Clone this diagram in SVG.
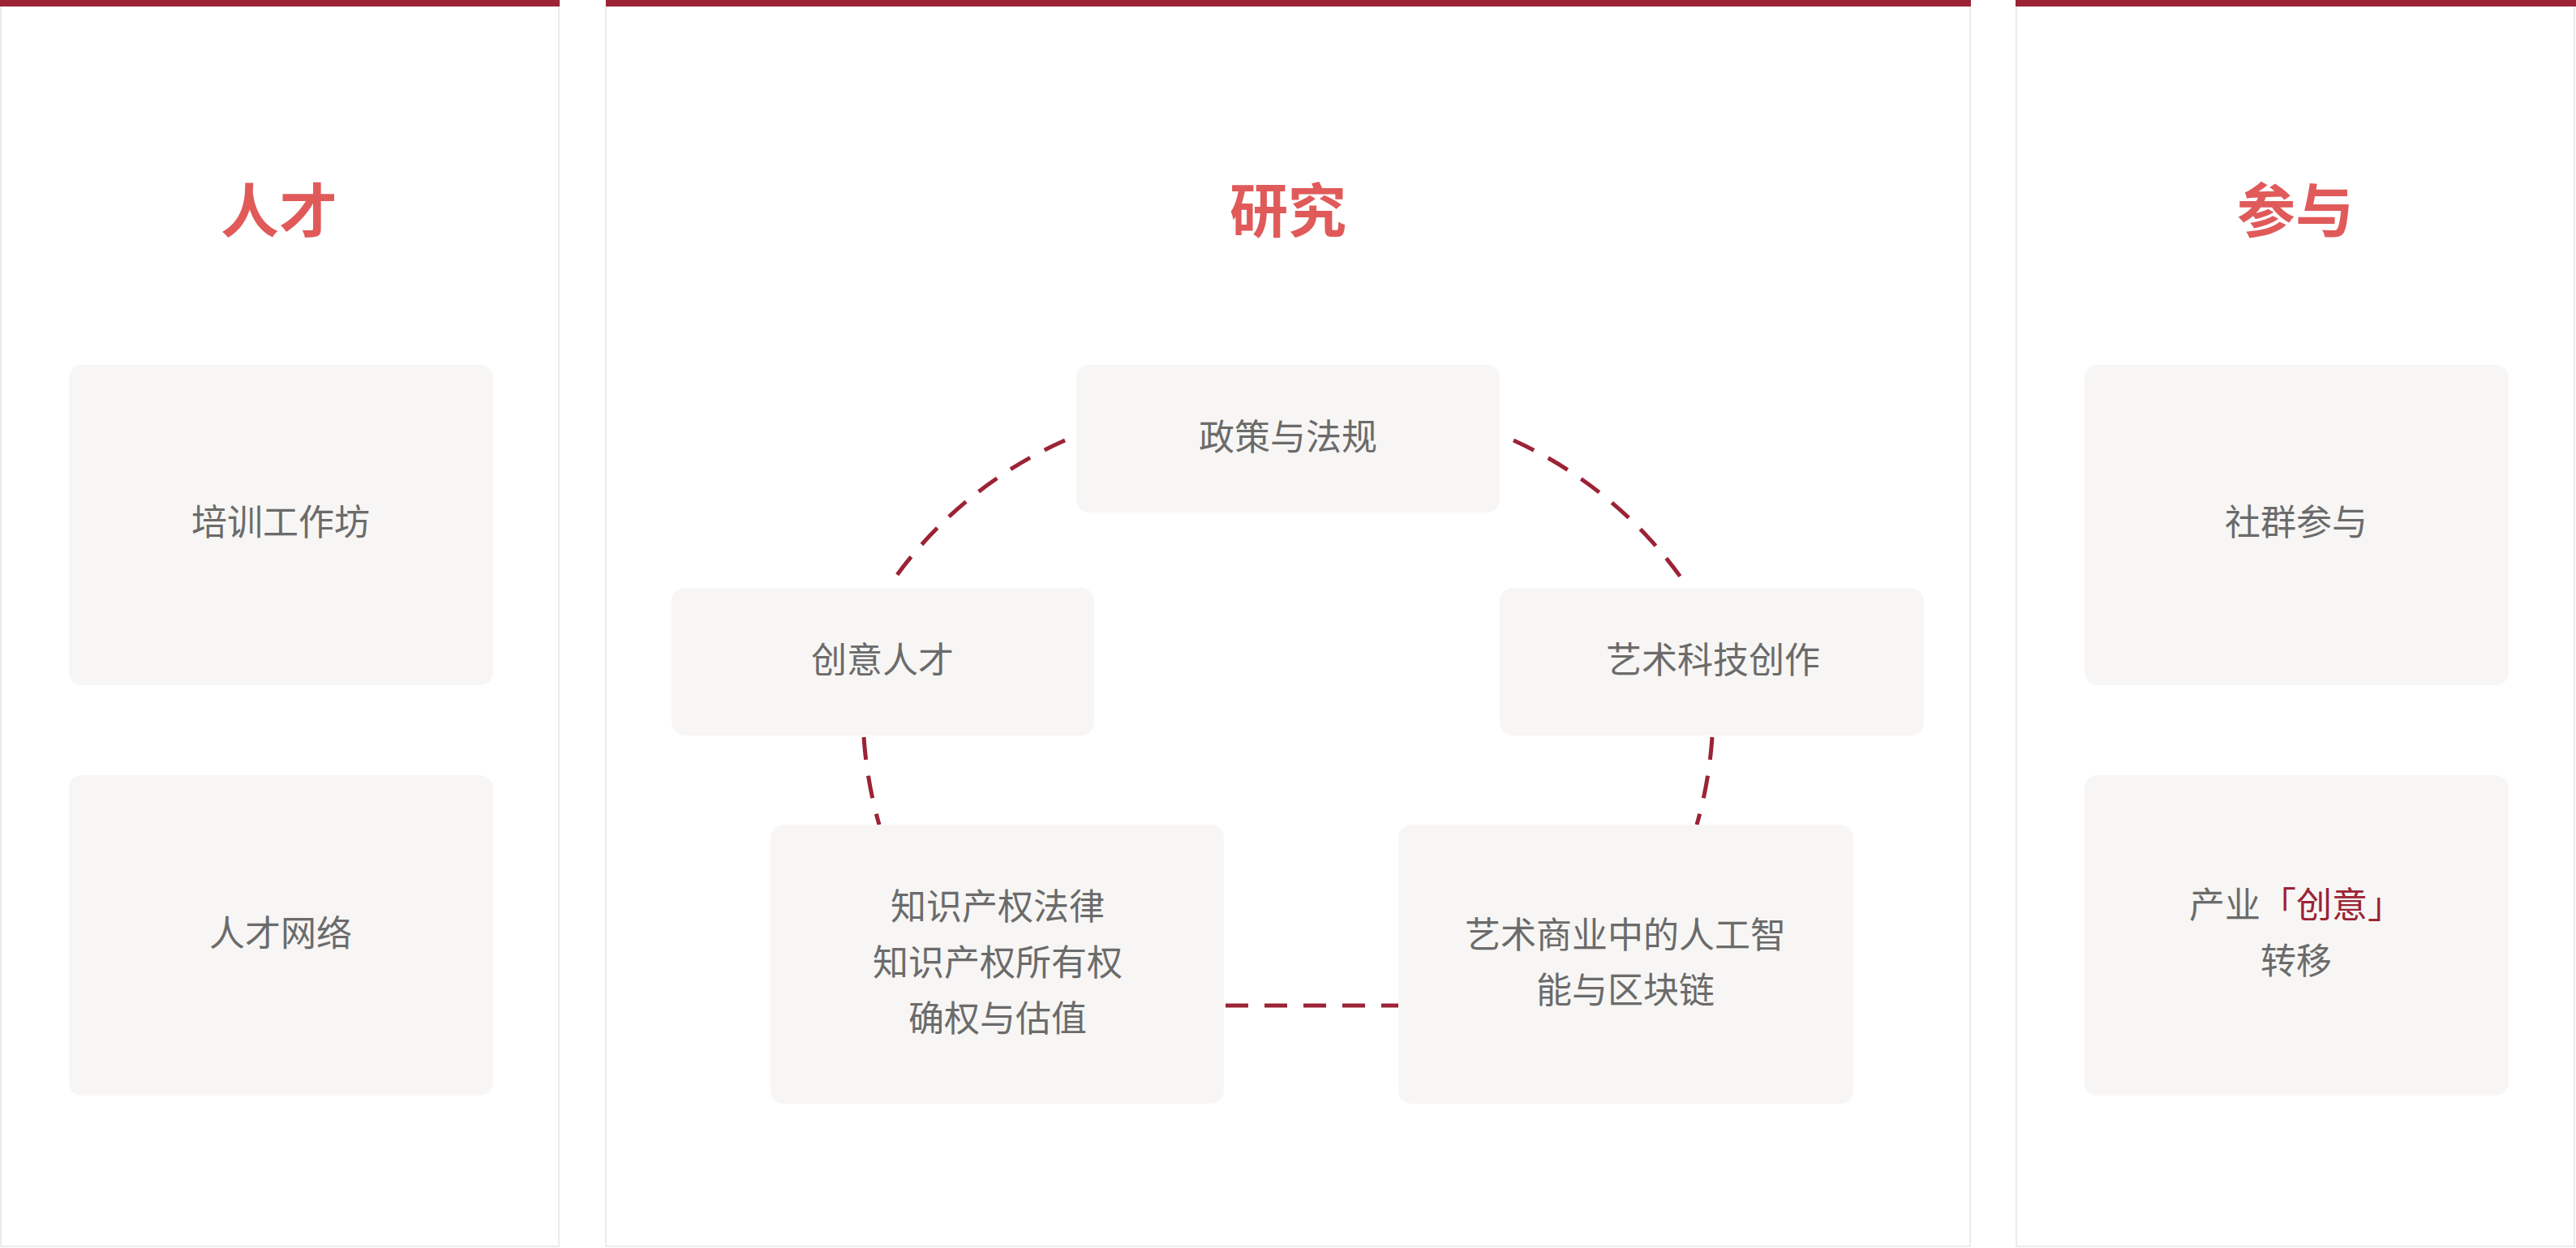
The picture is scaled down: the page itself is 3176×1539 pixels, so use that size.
<svg xmlns="http://www.w3.org/2000/svg" width="3176" height="1539" viewBox="0 0 3176 1539">
<style>
.panel{fill:#fff;stroke:#ebebeb;stroke-width:2}
.bar{fill:#9b2335}
.box{fill:#f7f6f4}
.title{font-family:"Noto Sans CJK SC",sans-serif;font-weight:700;font-size:72px;fill:#e05a5a;text-anchor:middle}
.t{font-family:"Noto Sans CJK SC",sans-serif;font-size:44px;fill:#6b6b6b;text-anchor:middle;dominant-baseline:middle}
.hl{fill:#9b2335}
.c{fill:none;stroke:#9b2335;stroke-width:5;stroke-dasharray:28 20}
</style>
<rect width="3176" height="1539" fill="#fff"/>
<g id="panel-talent">
<rect class="panel" x="1" y="1" width="688" height="1536"/>
<rect class="bar" x="0" y="0" width="690" height="8"/>
<text class="title" x="344" y="286">人才</text>
</g>
<g id="panel-research">
<rect class="panel" x="747" y="1" width="1682" height="1536"/>
<rect class="bar" x="747" y="0" width="1683" height="8"/>
<text class="title" x="1588" y="286">研究</text>
</g>
<g id="panel-engage">
<rect class="panel" x="2486" y="1" width="688" height="1536"/>
<rect class="bar" x="2485" y="0" width="691" height="8"/>
<text class="title" x="2830" y="286">参与</text>
</g>
<g id="connectors">
<path class="c" d="M1313,543 A516,516 0 0 0 1096,723"/>
<path class="c" d="M1866,543 A516,516 0 0 1 2080,723"/>
<path class="c" d="M1065,909 A516,516 0 0 0 1084,1017"/>
<path class="c" d="M2111,909 A516,516 0 0 1 2092,1017"/>
<path class="c" d="M1511,1240 L1724,1240"/>
</g>
<g id="n-workshop"><rect class="box" x="85" y="450" width="523" height="395" rx="16"/><text class="t" x="346" y="648">培训工作坊</text></g>
<g id="n-network"><rect class="box" x="85" y="956" width="523" height="395" rx="16"/><text class="t" x="346" y="1155">人才网络</text></g>
<g id="n-community"><rect class="box" x="2570" y="450" width="523" height="395" rx="16"/><text class="t" x="2831" y="648">社群参与</text></g>
<g id="n-transfer"><rect class="box" x="2570" y="956" width="523" height="395" rx="16"/><text class="t" x="2831" y="1120">产业<tspan class="hl">「创意」</tspan></text><text class="t" x="2831" y="1189">转移</text></g>
<g id="n-policy"><rect class="box" x="1327" y="450" width="522" height="182" rx="16"/><text class="t" x="1588" y="543">政策与法规</text></g>
<g id="n-creative"><rect class="box" x="828" y="725" width="521" height="182" rx="16"/><text class="t" x="1088" y="818">创意人才</text></g>
<g id="n-arttech"><rect class="box" x="1849" y="725" width="523" height="182" rx="16"/><text class="t" x="2112" y="818">艺术科技创作</text></g>
<g id="n-ip"><rect class="box" x="950" y="1017" width="559" height="344" rx="16"/><text class="t" x="1230" y="1122">知识产权法律</text><text class="t" x="1230" y="1191">知识产权所有权</text><text class="t" x="1230" y="1260">确权与估值</text></g>
<g id="n-ai"><rect class="box" x="1724" y="1017" width="561" height="344" rx="16"/><text class="t" x="2004" y="1157">艺术商业中的人工智</text><text class="t" x="2004" y="1225">能与区块链</text></g>
</svg>
